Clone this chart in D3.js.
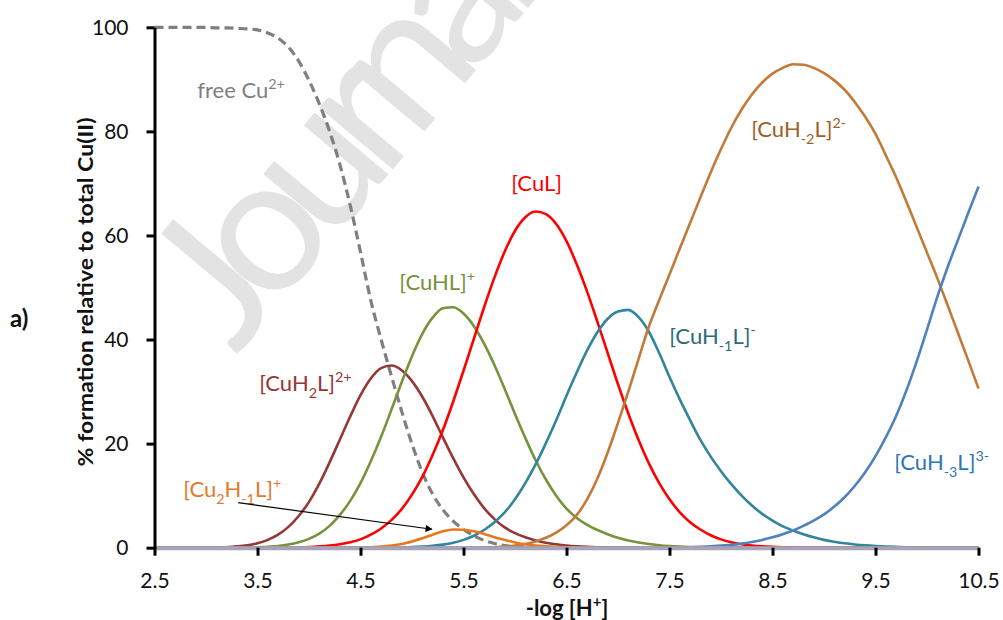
<!DOCTYPE html>
<html><head><meta charset="utf-8">
<script src="https://cdn.jsdelivr.net/npm/d3@7"></script>
<style>body{margin:0;background:#fff} svg{display:block;font-family:Lato,"Open Sans",sans-serif}</style>
</head><body><svg id="c" width="1003" height="620"></svg>
<script>
// ---------------- data ----------------
const pH = [2.5,2.6,2.7,2.8,2.9,3.0,3.1,3.2,3.3,3.4,
 3.5,3.6,3.7,3.8,3.9,4.0,4.1,4.2,4.3,4.4,
 4.5,4.6,4.7,4.8,4.9,5.0,5.1,5.2,5.3,5.4,
 5.5,5.6,5.7,5.8,5.9,6.0,6.1,6.2,6.3,6.4,
 6.5,6.6,6.7,6.8,6.9,7.0,7.1,7.2,7.3,7.4,
 7.5,7.6,7.7,7.8,7.9,8.0,8.1,8.2,8.3,8.4,
 8.5,8.6,8.7,8.8,8.9,9.0,9.1,9.2,9.3,9.4,
 9.5,9.6,9.7,9.8,9.9,10.0,10.1,10.2,10.3,10.4,
 10.5];
const freeCu = [100,100,100,100,100,100,99.9,99.9,99.8,99.7,
 99.5,98.9,97.9,96.2,93.5,89.8,85.3,80.0,73.6,65.8,
 56.8,47.5,40.0,33.0,26.2,19.9,14.5,10.3,7.3,5.1,
 3.5,2.3,1.4,0.8,0.4,0.2,0.1,0,0,0,
 0,0,0,0,0,0,0,0,0,0,
 0,0,0,0,0,0,0,0,0,0,
 0,0,0,0,0,0,0,0,0,0,
 0,0,0,0,0,0,0,0,0,0,
 0];
const CuH2L = [0,0,0,0,0,0,0,0.1,0.25,0.47,
 0.86,1.5,2.5,4.0,6.1,8.8,12.3,16.4,20.8,25.2,
 29.3,32.5,34.5,35.0,34.1,32.0,29.0,25.3,21.2,17.2,
 13.5,10.3,7.6,5.5,3.9,2.8,2.0,1.4,0.95,0.65,
 0.42,0.27,0.17,0.1,0.06,0,0,0,0,0,
 0,0,0,0,0,0,0,0,0,0,
 0,0,0,0,0,0,0,0,0,0,
 0,0,0,0,0,0,0,0,0,0,
 0];
const CuHL = [0,0,0,0,0,0,0,0,0,0,
 0.1,0.19,0.34,0.61,1.04,1.7,2.7,4.2,6.3,9.0,
 12.4,16.6,21.3,26.5,31.8,36.8,41.1,44.2,46.0,46.2,
 45.0,42.6,39.2,35.1,30.5,25.7,21.1,16.8,13.1,10.0,
 7.5,5.7,4.4,3.4,2.6,1.9,1.4,1.0,0.7,0.48,
 0.32,0.2,0.12,0.07,0.04,0,0,0,0,0,
 0,0,0,0,0,0,0,0,0,0,
 0,0,0,0,0,0,0,0,0,0,
 0];
const CuL = [0,0,0,0,0,0,0,0,0,0,
 0,0,0,0,0,0.14,0.25,0.41,0.67,1.06,
 1.6,2.5,3.7,5.3,7.4,10.2,13.6,17.8,22.6,28.1,
 34.0,40.1,46.2,51.9,56.9,60.9,63.5,64.6,64.1,62.2,
 58.9,54.4,49.2,43.4,37.4,31.4,25.8,20.7,16.2,12.4,
 9.3,6.8,4.9,3.5,2.4,1.6,1.05,0.68,0.43,0.27,
 0.16,0.09,0.05,0,0,0,0,0,0,0,
 0,0,0,0,0,0,0,0,0,0,
 0];
const CuHm1L = [0,0,0,0,0,0,0,0,0,0,
 0,0,0,0,0,0,0,0,0,0,
 0,0,0,0,0,0.12,0.21,0.36,0.59,0.95,
 1.5,2.3,3.4,4.9,6.8,9.3,12.4,16.0,20.1,24.5,
 29.2,33.7,37.9,41.4,44.0,45.4,45.7,44.3,41.5,37.4,
 32.8,28.5,24.5,20.7,17.5,14.7,12.2,10.0,8.1,6.5,
 5.2,4.1,3.3,2.6,2.0,1.5,1.15,0.85,0.62,0.45,
 0.32,0.22,0.15,0.1,0.07,0.04,0,0,0,0,
 0];
const CuHm2L = [0,0,0,0,0,0,0,0,0,0,
 0,0,0,0,0,0,0,0,0,0,
 0,0,0,0,0,0,0,0,0,0,
 0,0,0.05,0.1,0.2,0.4,0.7,1.2,1.9,2.9,
 4.3,6.3,9.3,13.3,18.3,24.0,30.0,36.3,42.5,47.6,
 52.5,57.5,62.4,67.3,72.1,76.6,80.7,84.2,87.1,89.4,
 91.1,92.2,92.9,92.8,92.2,91.2,89.8,88.0,85.6,82.8,
 79.5,75.4,71.2,66.5,61.6,56.7,51.8,46.6,41.3,36.0,
 30.6];
const CuHm3L = [0,0,0,0,0,0,0,0,0,0,
 0,0,0,0,0,0,0,0,0,0,
 0,0,0,0,0,0,0,0,0,0,
 0,0,0,0,0,0,0,0,0,0,
 0,0,0,0,0,0,0,0,0,0,
 0,0.04,0.08,0.15,0.25,0.4,0.55,0.78,1.1,1.5,
 2.0,2.6,3.3,4.2,5.2,6.4,7.9,9.7,11.9,14.5,
 17.6,21.2,25.3,30.2,35.8,41.9,48.2,53.9,59.1,64.3,
 69.4];
const Cu2Hm1L = [0,0,0,0,0,0,0,0,0,0,
 0,0,0,0,0,0,0,0,0,0,
 0,0.1,0.2,0.4,0.7,1.2,1.8,2.5,3.15,3.5,
 3.45,3.15,2.65,2.0,1.5,1.0,0.65,0.4,0.25,0.15,
 0.08,0.04,0,0,0,0,0,0,0,0,
 0,0,0,0,0,0,0,0,0,0,
 0,0,0,0,0,0,0,0,0,0,
 0,0,0,0,0,0,0,0,0,0,
 0];

const xTicks = [2.5,3.5,4.5,5.5,6.5,7.5,8.5,9.5,10.5];
const yTicks = [0,20,40,60,80,100];

const seriesNames  = ["free Cu2+","[CuH2L]2+","[CuHL]+","[CuL]","[CuH-1L]-","[CuH-2L]2-","[CuH-3L]3-","[Cu2H-1L]+"];
const seriesValues = [freeCu, CuH2L, CuHL, CuL, CuHm1L, CuHm2L, CuHm3L, Cu2Hm1L];
const seriesColors = ["#7f7f7f","#953735","#77933c","#ff0000","#31859c","#c27a36","#4f81bd","#e8771e"];

// label text pieces: [text, kind] kind: "" normal, "b" subscript, "p" superscript
const labelParts = [
 [["free Cu",""],["2+","p"]],
 [["[CuH",""],["2","b"],["L]",""],["2+","p"]],
 [["[CuHL]",""],["+","p"]],
 [["[CuL]",""]],
 [["[CuH",""],["-1","b"],["L]",""],["-","p"]],
 [["[CuH",""],["-2","b"],["L]",""],["2-","p"]],
 [["[CuH",""],["-3","b"],["L]",""],["3-","p"]],
 [["[Cu",""],["2","b"],["H",""],["-1","b"],["L]",""],["+","p"]]
];
const labelPH  = [2.916, 3.516, 4.876, 5.963, 7.497, 8.293, 9.681, 2.779];
const labelVal = [86.4, 30.1, 49.5, 68.5, 39.1, 78.9, 14.9, 9.74];
const labelColors = ["#7f7f7f","#953735","#76923c","#ff0000","#2d6b7a","#9e6128","#2e75b6","#e37a2a"];
const arrowFrom = [3.313, 8.65];
const arrowTo   = [5.193, 3.54];

// ---------------- drawing ----------------
const svg = d3.select("#c");
const x = d3.scaleLinear().domain([2.5, 10.5]).range([154.5, 978.5]);
const y = d3.scaleLinear().domain([0, 100]).range([547.7, 27.3]);

// watermark
svg.append("text")
  .attr("transform", "translate(236,356) rotate(-50)")
  .attr("fill", "#e3e3e3")
  .style("font-size", "190px")
  .style("letter-spacing", "-20px")
  .style("font-family", "Lato, sans-serif")
  .text("Journal");

// curves
const line = d3.line().x((d,i)=>x(pH[i])).y(d=>y(d)).curve(d3.curveMonotoneX);
const gLines = svg.append("g");
seriesValues.forEach((vals, k) => {
  const p = gLines.append("path").datum(vals)
    .attr("d", line)
    .attr("fill", "none")
    .attr("stroke", seriesColors[k])
    .attr("stroke-width", k === 0 ? 3.2 : 2.6)
    .attr("stroke-linejoin", "round");
  if (k === 0) p.attr("stroke-dasharray", "9,5");
});

// x axis
const gx = svg.append("g").attr("transform", `translate(0,${y(0)})`)
  .call(d3.axisBottom(x).tickValues(xTicks).tickFormat(d3.format(".1f")).tickSize(8).tickSizeOuter(0).tickPadding(17));
gx.select(".domain").attr("stroke", "#a6a3bb").attr("stroke-width", 4);
gx.selectAll(".tick line").attr("stroke", "#000").attr("stroke-width", 3);
gx.selectAll(".tick text").attr("fill", "#111").style("font-size", "21px").style("font-family", "Lato, sans-serif");

// y axis
const gy = svg.append("g").attr("transform", `translate(${x(2.5)},0)`)
  .call(d3.axisLeft(y).tickValues(yTicks).tickSize(8).tickSizeOuter(0).tickPadding(18));
gy.select(".domain").attr("stroke", "#000").attr("stroke-width", 3);
gy.selectAll(".tick line").attr("stroke", "#000").attr("stroke-width", 3);
gy.selectAll(".tick text").attr("fill", "#111").style("font-size", "21px").style("font-family", "Lato, sans-serif");

// axis titles
const xt = svg.append("text").attr("x", 567).attr("y", 616).attr("text-anchor", "middle")
  .style("font-size", "22px").style("font-weight", "bold").attr("fill", "#111");
xt.append("tspan").text("-log [H");
xt.append("tspan").text("+").attr("dy", -9).style("font-size", "15px");
xt.append("tspan").text("]").attr("dy", 9);

svg.append("text").attr("transform", "translate(93,292) rotate(-90)")
  .attr("text-anchor", "middle")
  .attr("textLength", 349).attr("lengthAdjust", "spacingAndGlyphs")
  .style("font-size", "21px").style("font-weight", "bold").attr("fill", "#111")
  .text("% formation relative to total Cu(II)");

svg.append("text").attr("x", 10).attr("y", 327)
  .style("font-size", "24px").style("font-weight", "bold").attr("fill", "#111").text("a)");

// series labels
const size = 22;
labelParts.forEach((parts, k) => {
  const t = svg.append("text").attr("x", x(labelPH[k])).attr("y", y(labelVal[k]))
    .attr("fill", labelColors[k]).style("font-size", size + "px");
  let cur = 0;
  parts.forEach(([txt, kind]) => {
    const target = kind === "b" ? 0.3 * size : kind === "p" ? -0.42 * size : 0;
    t.append("tspan").text(txt).attr("dy", target - cur)
      .style("font-size", (kind ? 0.65 * size : size) + "px");
    cur = target;
  });
});

// arrow
const defs = svg.append("defs");
defs.append("marker").attr("id", "ah").attr("viewBox", "0 0 10 10")
  .attr("refX", 9).attr("refY", 5).attr("markerWidth", 9).attr("markerHeight", 7)
  .attr("markerUnits", "userSpaceOnUse").attr("orient", "auto")
  .append("path").attr("d", "M0,0 L10,5 L0,10 z").attr("fill", "#000");
svg.append("line")
  .attr("x1", x(arrowFrom[0])).attr("y1", y(arrowFrom[1]))
  .attr("x2", x(arrowTo[0])).attr("y2", y(arrowTo[1]))
  .attr("stroke", "#000").attr("stroke-width", 1.2).attr("marker-end", "url(#ah)");
</script></body></html>
